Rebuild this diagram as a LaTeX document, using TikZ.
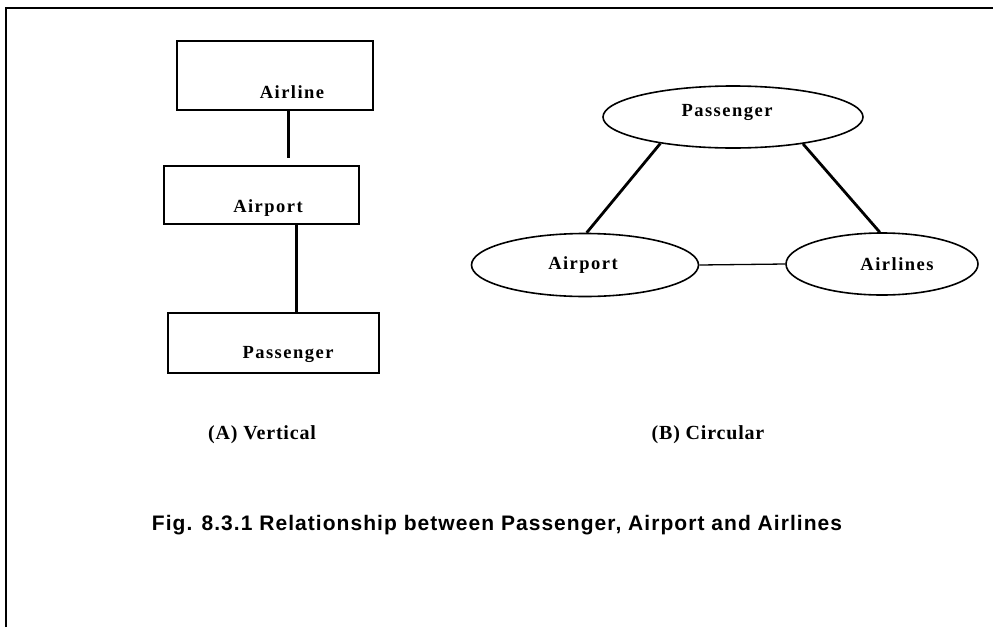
\documentclass[tikz,border=0pt]{standalone}
\usepackage{fontspec}
\setmainfont{Liberation Serif}
\newfontfamily\labfont[LetterSpace=8]{Liberation Serif}
\newfontfamily\subfont[LetterSpace=4]{Liberation Serif}
\newfontfamily\capfont[LetterSpace=5]{Liberation Sans}
\usetikzlibrary{shapes.geometric}
\begin{document}
\begin{tikzpicture}[x=1pt,y=-1pt,
  frameline/.style={line width=1.6pt},
  boxnode/.style={draw, line width=1.8pt, rectangle, anchor=north west, inner sep=0pt},
  ellnode/.style={draw, line width=1.6pt, ellipse, inner sep=0pt},
  labtext/.style={font=\labfont\bfseries\fontsize{18.5}{20}\selectfont, inner sep=0pt},
  thickconn/.style={line width=3pt},
  midconn/.style={line width=2.8pt},
  thinconn/.style={line width=1.3pt},
  subtext/.style={font=\subfont\bfseries\fontsize{20}{22}\selectfont, inner sep=0pt},
  captext/.style={font=\capfont\bfseries\fontsize{21}{23}\selectfont, inner sep=0pt}]
\useasboundingbox (0,0) rectangle (993,627);
\fill[white] (0,0) rectangle (993,627);
% frame
\draw[frameline] (6,627) -- (6,8) -- (993,8);
% (A) vertical
\node[boxnode, minimum width=196pt, minimum height=69pt] (airline) at (176,40) {};
\node[labtext] (airlineT) at (292,92) {Airline};
\node[boxnode, minimum width=195pt, minimum height=58pt] (airport) at (163,165) {};
\node[labtext] (airportT) at (268,208) {Airport};
\node[boxnode, minimum width=211pt, minimum height=60pt] (passenger) at (167,312) {};
\node[labtext] (passengerT) at (288,354) {Passenger};
\coordinate (c1) at (288,0);
\coordinate (c2) at (296,0);
\draw[thickconn] (airline.south -| c1) -- ([yshift=7pt]airport.north -| c1);
\draw[thickconn] (airport.south -| c2) -- (passenger.north -| c2);
% (B) circular
\node[ellnode, minimum width=260pt, minimum height=62pt] (epass) at (733,117) {};
\node[labtext] (epassT) at (727,112) {Passenger};
\node[ellnode, minimum width=227pt, minimum height=63pt] (eairport) at (585,265) {};
\node[labtext] (eairportT) at (583,265) {Airport};
\node[ellnode, minimum width=192pt, minimum height=62pt] (eairlines) at (882,264) {};
\node[labtext] (eairlinesT) at (897,264) {Airlines};
\draw[midconn] (epass.200) -- (eairport.87);
\draw[midconn] (epass.339) -- (eairlines.94);
\draw[thinconn] (eairport.east) -- (eairlines.west);
% captions
\node[subtext] (subA) at (262,435) {(A) Vertical};
\node[subtext] (subB) at (708,435) {(B) Circular};
\node[captext] (cap) at (497,525) {Fig. 8.3.1\ Relationship between Passenger, Airport and Airlines};
\end{tikzpicture}
\end{document}
